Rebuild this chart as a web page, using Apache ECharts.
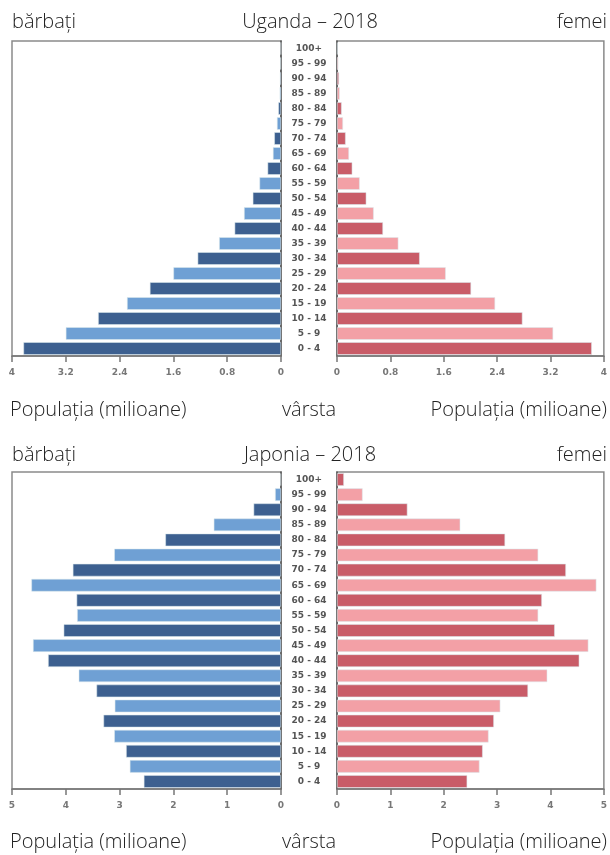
<!DOCTYPE html>
<html><head><meta charset="utf-8">
<script src="https://cdn.jsdelivr.net/npm/echarts@6/dist/echarts.min.js"></script>
<style>html,body{margin:0;padding:0;background:#fff}#c{width:610px;height:855px}</style>
</head><body><div id="c"></div>
<script>
const ages = ['0 - 4','5 - 9','10 - 14','15 - 19','20 - 24','25 - 29','30 - 34','35 - 39','40 - 44','45 - 49','50 - 54','55 - 59','60 - 64','65 - 69','70 - 74','75 - 79','80 - 84','85 - 89','90 - 94','95 - 99','100+'];
const ugandaMale   = [3.83,3.20,2.72,2.29,1.95,1.60,1.24,0.92,0.69,0.55,0.42,0.32,0.20,0.12,0.10,0.06,0.04,0.02,0.015,0.01,0.005];
const ugandaFemale = [3.82,3.24,2.78,2.37,2.01,1.63,1.24,0.92,0.69,0.55,0.44,0.34,0.23,0.18,0.13,0.09,0.07,0.04,0.03,0.02,0.01];
const japanMale    = [2.55,2.81,2.88,3.10,3.30,3.09,3.43,3.76,4.33,4.61,4.04,3.79,3.80,4.64,3.87,3.10,2.15,1.25,0.51,0.11,0.01];
const japanFemale  = [2.44,2.67,2.73,2.84,2.94,3.06,3.58,3.94,4.54,4.71,4.08,3.77,3.84,4.86,4.29,3.77,3.15,2.31,1.32,0.48,0.13];
const ugandaTitle = 'Uganda – 2018';
const japanTitle = 'Japonia – 2018';
const maleLabel = 'bărbați', femaleLabel = 'femei', ageLabel = 'vârsta', popLabel = 'Populația (milioane)';

const maleColors = ['#3d6090','#6fa0d4'];
const femaleColors = ['#c95c68','#f3a0a6'];

const chart = echarts.init(document.getElementById('c'));
const font = 'DejaVu Sans';
const textFont = 'Open Sans';

function grid(left, top, height){
  return {left:left, top:top, width:269, height:height, show:true, borderColor:'#8a8a8a', borderWidth:1.5, containLabel:false};
}
const grids = [grid(12,41,315), grid(337,41,315), grid(12,472,317), grid(337,472,317)];

function xAxis(idx, max, interval, inverse){
  return {type:'value', gridIndex:idx, min:0, max:max, interval:interval, inverse:inverse,
    axisLine:{show:true, lineStyle:{color:'#777', width:1.5}},
    axisTick:{show:true, length:6, lineStyle:{color:'#777', width:1.5}},
    axisLabel:{color:'#777', fontSize:9, fontWeight:'bold', fontFamily:font, margin:12,
      formatter: v => String(Math.round(v*10)/10)},
    splitLine:{show:false}};
}
function yAxis(idx, isRight){
  return {type:'category', gridIndex:idx, data:ages, position: isRight ? 'left' : 'right',
    axisLine:{show:true, lineStyle:{color:'#555', width:1.5}},
    axisTick:{show:false},
    axisLabel:{show:isRight, align:'center', margin:28, color:'#555', fontSize:9, fontWeight:'bold', fontFamily:font, interval:0},
    splitLine:{show:false}};
}
function series(idx, data, colors){
  return {type:'bar', xAxisIndex:idx, yAxisIndex:idx, barCategoryGap:'16%',
    data: data.map((v,i)=>({value:v, itemStyle:{color:colors[i%2]}})),
    itemStyle:{borderColor:'rgba(220,232,236,0.9)', borderWidth:0.6},
    silent:true, animation:false};
}

function txt(x, y, s, align){
  return {type:'text', x:x, y:y, style:{text:s, fontSize:20, fontFamily:textFont, fontWeight:300, fill:'#222', textAlign:align, textVerticalAlign:'middle'}};
}

chart.setOption({
  animation:false,
  grid: grids,
  xAxis: [xAxis(0,4,0.8,true), xAxis(1,4,0.8,false), xAxis(2,5,1,true), xAxis(3,5,1,false)],
  yAxis: [yAxis(0,false), yAxis(1,true), yAxis(2,false), yAxis(3,true)],
  series: [series(0,ugandaMale,maleColors), series(1,ugandaFemale,femaleColors), series(2,japanMale,maleColors), series(3,japanFemale,femaleColors)],
  graphic: [
    txt(12,22,maleLabel,'left'), txt(310,22,ugandaTitle,'center'), txt(607,22,femaleLabel,'right'),
    txt(10,410,popLabel,'left'), txt(309,410,ageLabel,'center'), txt(607,410,popLabel,'right'),
    txt(12,455,maleLabel,'left'), txt(310,455,japanTitle,'center'), txt(607,455,femaleLabel,'right'),
    txt(10,842,popLabel,'left'), txt(309,842,ageLabel,'center'), txt(607,842,popLabel,'right')
  ]
});
</script></body></html>
